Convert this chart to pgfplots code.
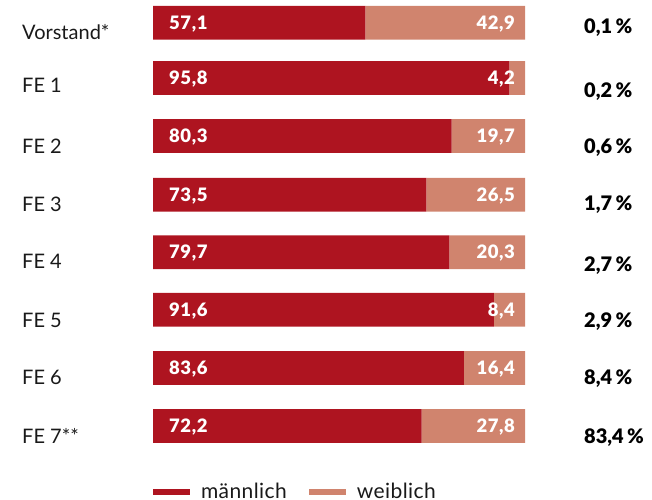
\documentclass[border=0pt]{standalone}
\usepackage{fontspec}
\setmainfont{Lato}
\newfontfamily\heavy{Lato Black}
\usepackage{pgfplots}
\pgfplotsset{compat=1.18}
\definecolor{mred}{HTML}{AE1420}
\definecolor{wrose}{HTML}{D0846E}
\begin{document}
\begin{tikzpicture}[x=1pt,y=1pt]
\useasboundingbox (0,0) rectangle (652,499);
\pgfplotsset{base/.style={at={(153pt,0pt)}, anchor=south west, scale only axis,
  width=372pt, height=499pt, xmin=0, xmax=100, ymin=0, ymax=499, y dir=reverse,
  clip=false, axis line style={draw=none}, major tick length=0pt, xtick=\empty}}
\begin{axis}[base, xbar stacked, bar width=33.7pt,
  ytick={39.3,92.7,153,211,268.5,327,384.5,443},
  yticklabels={Vorstand*,FE 1,FE 2,FE 3,FE 4,FE 5,FE 6,FE 7**},
  yticklabel style={anchor=base west, inner sep=0pt, xshift=-131pt,
    font=\fontsize{20}{22}\selectfont, text=black!90},
  legend style={at={(axis cs:0,492)}, anchor=west, draw=none, fill=none,
    inner sep=0pt, outer sep=0pt, legend columns=2,
    nodes={inner sep=0pt, font=\fontsize{21}{23}\selectfont\addfontfeature{LetterSpace=2}, text=black!90},
    /tikz/every odd column/.append style={column sep=11pt},
    /tikz/every even column/.append style={column sep=22pt}}]
\addplot[fill=mred, draw=none,
  legend image code/.code={\fill[mred] (0pt,-3.2pt) rectangle (37pt,3.2pt);}]
  coordinates {(57.1,22.7) (95.8,77.9) (80.3,135.9) (73.5,194.7) (79.7,252.2) (91.6,309.7) (83.6,367.9) (72.2,425.9)};
\addplot[fill=wrose, draw=none,
  legend image code/.code={\fill[wrose] (0pt,-3.2pt) rectangle (37pt,3.2pt);}]
  coordinates {(42.9,22.7) (4.2,77.9) (19.7,135.9) (26.5,194.7) (20.3,252.2) (8.4,309.7) (16.4,367.9) (27.8,425.9)};
\legend{männlich, weiblich}
\end{axis}
\begin{axis}[base, ytick=\empty, point meta=explicit symbolic]
\addplot[draw=none, mark=none, nodes near coords,
  every node near coord/.append style={anchor=base west, inner sep=0pt, xshift=16pt,
    text=white, font=\heavy\fontsize{18.5}{20}\selectfont\addfontfeature{LetterSpace=3}}]
  coordinates {(0,29.4) [57{,}1] (0,84.6) [95{,}8] (0,142.6) [80{,}3] (0,201.4) [73{,}5]
    (0,258.9) [79{,}7] (0,316.4) [91{,}6] (0,374.6) [83{,}6] (0,432.6) [72{,}2]};
\addplot[draw=none, mark=none, nodes near coords,
  every node near coord/.append style={anchor=base east, inner sep=0pt, xshift=-10pt,
    text=white, font=\heavy\fontsize{18.5}{20}\selectfont\addfontfeature{LetterSpace=3}}]
  coordinates {(100,29.4) [42{,}9] (100,84.6) [4{,}2] (100,142.6) [19{,}7] (100,201.4) [26{,}5]
    (100,258.9) [20{,}3] (100,316.4) [8{,}4] (100,374.6) [16{,}4] (100,432.6) [27{,}8]};
\addplot[draw=none, mark=none, nodes near coords,
  every node near coord/.append style={anchor=base west, inner sep=0pt,
    text=black, font=\heavy\fontsize{20}{22}\selectfont}]
  coordinates {(115.86,33.3) [0{,}1\,\%] (115.86,97) [0{,}2\,\%] (115.86,153.7) [0{,}6\,\%]
    (115.86,210) [1{,}7\,\%] (115.86,271) [2{,}7\,\%] (115.86,327) [2{,}9\,\%]
    (115.86,384) [8{,}4\,\%] (115.86,443.7) [83{,}4\,\%]};
\end{axis}
\end{tikzpicture}
\end{document}
